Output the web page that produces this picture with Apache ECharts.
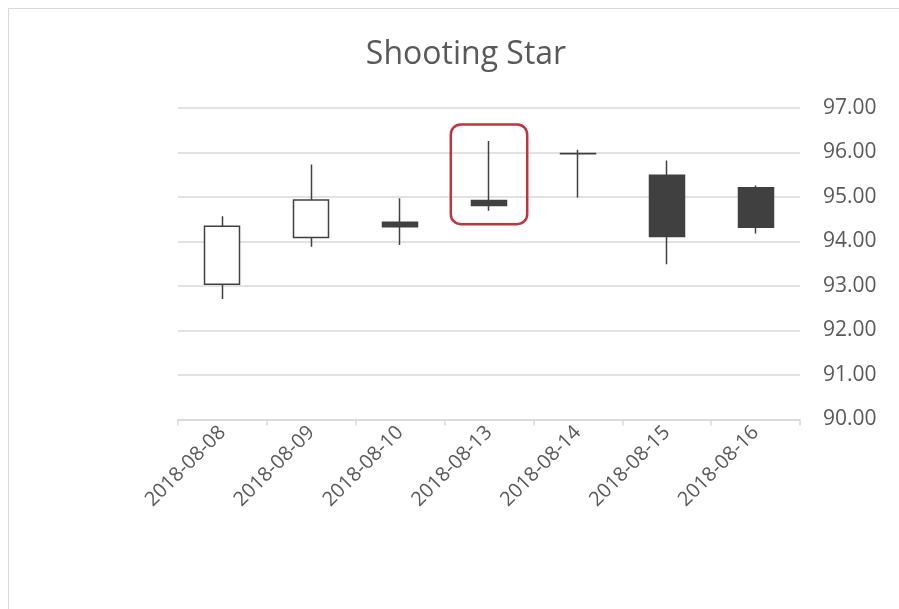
<!DOCTYPE html>
<html>
<head>
<meta charset="utf-8">
<script src="https://cdn.jsdelivr.net/npm/echarts@6/dist/echarts.min.js"></script>
<style>
  html, body { margin: 0; padding: 0; background: #fff; }
  #chart { width: 899px; height: 609px; }
</style>
</head>
<body>
<div id="chart"></div>
<script>
// 日期 / open, close, low, high
const dates = ["2018-08-08", "2018-08-09", "2018-08-10", "2018-08-13", "2018-08-14", "2018-08-15", "2018-08-16"];
const openArr = [93.04, 94.09, 94.43, 94.92, 95.97, 95.49, 95.21];
const closeArr = [94.34, 94.93, 94.33, 94.81, 95.98, 94.11, 94.32];
const lowArr = [92.71, 93.88, 93.92, 94.69, 94.99, 93.49, 94.18];
const highArr = [94.57, 95.73, 94.97, 96.26, 96.06, 95.82, 95.26];
// highlighted candle (shooting star)
const highlightIndex = 3;
const highlightRange = [94.39, 96.63];

const chart = echarts.init(document.getElementById("chart"));
const kData = dates.map((d, i) => [openArr[i], closeArr[i], lowArr[i], highArr[i]]);
const font = "'Open Sans', 'Liberation Sans', sans-serif";

chart.setOption({
  animation: false,
  backgroundColor: "#fff",
  title: {
    text: "Shooting Star",
    left: 461,
    textAlign: "center",
    top: 34,
    textStyle: { fontFamily: font, fontSize: 32, fontWeight: "normal", color: "#595959" },
  },
  grid: { left: 178, right: 99, top: 108, bottom: 189.5 },
  xAxis: {
    type: "category",
    data: dates,
    boundaryGap: true,
    axisLine: { lineStyle: { color: "#d9d9d9", width: 1.5 } },
    axisTick: { show: true, length: 6, lineStyle: { color: "#d9d9d9", width: 1.5 } },
    axisLabel: {
      interval: 0,
      rotate: 45,
      margin: 10,
      fontFamily: font,
      fontSize: 20,
      color: "#595959",
    },
  },
  yAxis: {
    type: "value",
    position: "right",
    min: 90,
    max: 97,
    interval: 1,
    axisLine: { show: false },
    axisTick: { show: false },
    splitLine: { lineStyle: { color: "#d9d9d9", width: 1.5 } },
    axisLabel: {
      margin: 23,
      fontFamily: font,
      fontSize: 21,
      color: "#595959",
      formatter: (v) => v.toFixed(2),
    },
  },
  series: [
    {
      type: "candlestick",
      data: kData,
      barWidth: "40%",
      itemStyle: {
        color: "#ffffff",
        color0: "#404040",
        borderColor: "#404040",
        borderColor0: "#404040",
        borderColorDoji: "#404040",
        borderWidth: 1.5,
      },
    },
  ],
});

// 边框 + 红框
const w = chart.getWidth();
const p1 = chart.convertToPixel({ gridIndex: 0 }, [highlightIndex, highlightRange[1]]);
const p2 = chart.convertToPixel({ gridIndex: 0 }, [highlightIndex, highlightRange[0]]);
const catW = (w - 178 - 99) / dates.length;
const halfW = catW * 0.43;
chart.setOption({
  graphic: [
    {
      type: "polyline",
      shape: { points: [[8.5, 700], [8.5, 8.5], [1000, 8.5]] },
      style: { fill: "none", stroke: "#d9d9d9", lineWidth: 1 },
      silent: true,
    },
    {
      type: "rect",
      shape: { x: p1[0] - halfW, y: p1[1], width: halfW * 2, height: p2[1] - p1[1], r: 10 },
      style: { fill: "none", stroke: "#c0343c", lineWidth: 2.5 },
      z: 10,
    },
  ],
});
</script>
</body>
</html>
